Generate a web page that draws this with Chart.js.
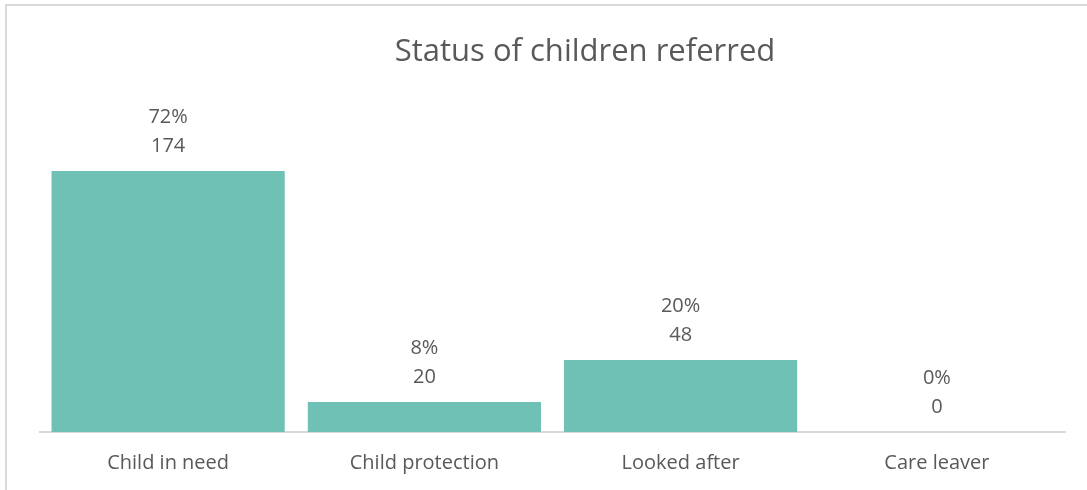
<!DOCTYPE html>
<html>
<head>
<meta charset="utf-8">
<script src="https://cdn.jsdelivr.net/npm/chart.js@4/dist/chart.umd.min.js"></script>
<style>
  html, body { margin: 0; padding: 0; background: #ffffff; }
  #wrap { position: relative; width: 1087px; height: 490px; overflow: hidden; }
  #frame { position: absolute; left: 5px; top: 4px; width: 1100px; height: 500px;
           border-left: 2px solid #d9d9d9; border-top: 2px solid #d9d9d9; box-sizing: border-box; }
  canvas { position: absolute; left: 0; top: 0; }
</style>
</head>
<body>
<div id="wrap">
  <div id="frame"></div>
  <canvas id="c" width="1087" height="490"></canvas>
</div>
<script>
const categories = ["Child in need", "Child protection", "Looked after", "Care leaver"];
const counts = [174, 20, 48, 0];
const percentLabels = ["72%", "8%", "20%", "0%"];
const chartTitle = "Status of children referred";

const FONT = "'Open Sans', sans-serif";
const TEXT = "#595959";

const titlePlugin = {
  id: "offsetTitle",
  afterDraw(chart) {
    const ctx = chart.ctx;
    ctx.save();
    ctx.font = "31px " + FONT;
    ctx.fillStyle = TEXT;
    ctx.textAlign = "center";
    ctx.textBaseline = "middle";
    ctx.fillText(chartTitle, 585, 52);
    ctx.restore();
  }
};

const labelPlugin = {
  id: "twoLineLabels",
  afterDatasetsDraw(chart) {
    const ctx = chart.ctx;
    const meta = chart.getDatasetMeta(0);
    ctx.save();
    ctx.font = "20px " + FONT;
    ctx.fillStyle = TEXT;
    ctx.textAlign = "center";
    ctx.textBaseline = "middle";
    meta.data.forEach((bar, i) => {
      const x = bar.x;
      const top = bar.y;
      ctx.fillText(String(counts[i]), x, top - 25);
      ctx.fillText(percentLabels[i], x, top - 54);
    });
    ctx.restore();
  }
};

new Chart(document.getElementById("c"), {
  type: "bar",
  data: {
    labels: categories,
    datasets: [{
      data: counts,
      backgroundColor: "#70c1b5",
      borderWidth: 0,
      categoryPercentage: 1.0,
      barPercentage: 0.91
    }]
  },
  options: {
    responsive: false,
    animation: false,
    layout: { padding: { left: 40, right: 22, top: 132, bottom: 0 } },
    plugins: {
      legend: { display: false },
      tooltip: { enabled: false },
      title: { display: false }
    },
    scales: {
      x: {
        grid: { display: false },
        border: { display: true, color: "#d9d9d9", width: 2 },
        ticks: { color: TEXT, font: { family: FONT, size: 20 }, padding: 11, maxRotation: 0 },
        afterFit(scale) { scale.height = 58; }
      },
      y: {
        display: false,
        min: 0,
        max: 200
      }
    }
  },
  plugins: [labelPlugin, titlePlugin]
});
</script>
</body>
</html>
